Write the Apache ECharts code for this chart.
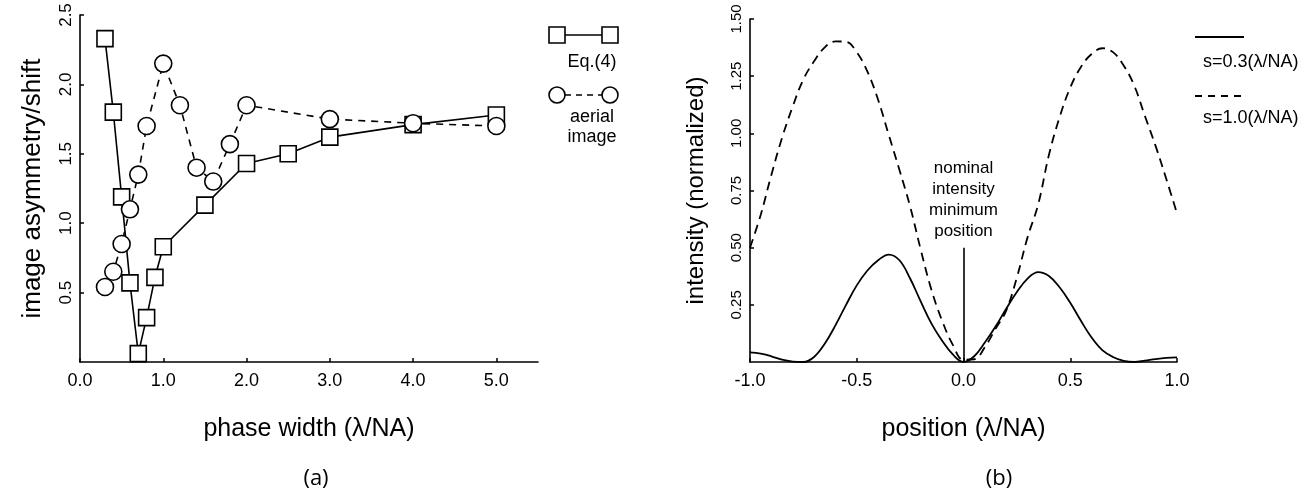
<!DOCTYPE html>
<html>
<head>
<meta charset="utf-8">
<script src="https://cdn.jsdelivr.net/npm/echarts@6/dist/echarts.min.js"></script>
<style>
html,body{margin:0;padding:0;background:#fff;}
#chart{width:1307px;height:497px;}
</style>
</head>
<body>
<div id="chart"></div>
<script>
// ---- Data (a): image asymmetry/shift vs phase width ----
const eq4Width = [0.3, 0.4, 0.5, 0.6, 0.7, 0.8, 0.9, 1.0, 1.5, 2.0, 2.5, 3.0, 4.0, 5.0];
const eq4Asym  = [2.33, 1.80, 1.19, 0.57, 0.06, 0.32, 0.61, 0.83, 1.13, 1.43, 1.50, 1.62, 1.71, 1.78];
const aerialWidth = [0.3, 0.4, 0.5, 0.6, 0.7, 0.8, 1.0, 1.2, 1.4, 1.6, 1.8, 2.0, 3.0, 4.0, 5.0];
const aerialAsym  = [0.54, 0.65, 0.85, 1.10, 1.35, 1.70, 2.15, 1.85, 1.40, 1.30, 1.57, 1.85, 1.75, 1.72, 1.70];
const xTicksA = [0, 1, 2, 3, 4, 5];
const yTicksA = [0.5, 1.0, 1.5, 2.0, 2.5];

// ---- Data (b): intensity vs position ----
const positions = [-1.00,-0.95,-0.90,-0.85,-0.80,-0.75,-0.70,-0.65,-0.60,-0.55,-0.50,-0.45,-0.40,-0.35,-0.30,-0.25,-0.20,-0.15,-0.10,-0.05,
                   0.00,0.05,0.10,0.15,0.20,0.25,0.30,0.35,0.40,0.45,0.50,0.55,0.60,0.65,0.70,0.75,0.80,0.85,0.90,0.95,1.00];
const intensityS03 = [0.042,0.037,0.025,0.010,0.002,0.000,0.022,0.080,0.160,0.250,0.335,0.400,0.445,0.470,0.445,0.365,0.264,0.168,0.093,0.033,
                      0.000,0.025,0.085,0.155,0.233,0.306,0.365,0.393,0.376,0.327,0.259,0.180,0.107,0.052,0.022,0.005,0.000,0.006,0.013,0.018,0.020];
const intensityS10 = [0.50,0.643,0.818,0.98,1.117,1.236,1.315,1.376,1.402,1.400,1.355,1.27,1.147,0.993,0.84,0.68,0.49,0.315,0.18,0.075,
                      0.01,0.012,0.065,0.145,0.225,0.37,0.545,0.69,0.905,1.07,1.20,1.29,1.347,1.372,1.355,1.297,1.208,1.075,0.944,0.80,0.65];
const xTicksB = [-1.0, -0.5, 0.0, 0.5, 1.0];
const yTicksB = [0.25, 0.50, 0.75, 1.00, 1.25, 1.50];
const nominalMin = [0.0, 0.5]; // x position, line top
const nominalText = ['nominal', 'intensity', 'minimum', 'position'];

const legendA = ['Eq.(4)', 'aerial\nimage'];
const legendB = ['s=0.3(λ/NA)', 's=1.0(λ/NA)'];

const FONT = '"Liberation Sans", Arial, Helvetica, sans-serif';
const zip = (a, b) => a.map((v, i) => [v, b[i]]);

const chart = echarts.init(document.getElementById('chart'), null, {renderer: 'canvas'});

const axisLineStyle = {color: '#000', width: 1.6};

const option = {
  animation: false,
  backgroundColor: '#fff',
  textStyle: {fontFamily: FONT, color: '#000'},
  title: [
    {text: '(a)', left: 311, top: 463, textAlign: 'center',
     textStyle: {fontFamily: '"Open Sans", "DejaVu Sans", sans-serif', fontWeight: 'normal', fontSize: 22, color: '#000'}},
    {text: '(b)', left: 994, top: 463, textAlign: 'center',
     textStyle: {fontFamily: '"Open Sans", "DejaVu Sans", sans-serif', fontWeight: 'normal', fontSize: 22, color: '#000'}}
  ],
  grid: [
    {left: 80, top: 15, width: 458, height: 347},
    {left: 750, top: 19, width: 427, height: 343}
  ],
  xAxis: [
    {gridIndex: 0, type: 'value', min: 0, max: 5.5,
     axisLine: {show: true, onZero: false, lineStyle: axisLineStyle},
     axisTick: {show: true, inside: true, length: 4, customValues: xTicksA, lineStyle: {color: '#000', width: 1.5}},
     axisLabel: {customValues: xTicksA, formatter: v => v.toFixed(1), fontSize: 18, color: '#000', margin: 10, fontFamily: FONT},
     splitLine: {show: false},
     name: 'phase width (λ/NA)', nameLocation: 'middle', nameGap: 55,
     nameTextStyle: {fontSize: 25, color: '#000', fontFamily: FONT}},
    {gridIndex: 1, type: 'value', min: -1, max: 1, interval: 0.5,
     axisLine: {show: true, onZero: false, lineStyle: axisLineStyle},
     axisTick: {show: true, inside: true, length: 4, customValues: xTicksB, lineStyle: {color: '#000', width: 1.5}},
     axisLabel: {customValues: xTicksB, formatter: v => v.toFixed(1), fontSize: 18, color: '#000', margin: 10, fontFamily: FONT},
     splitLine: {show: false},
     name: 'position (λ/NA)', nameLocation: 'middle', nameGap: 55,
     nameTextStyle: {fontSize: 25, color: '#000', fontFamily: FONT}}
  ],
  yAxis: [
    {gridIndex: 0, type: 'value', min: 0, max: 2.5,
     axisLine: {show: true, onZero: false, lineStyle: axisLineStyle},
     axisTick: {show: true, inside: true, length: 4, customValues: yTicksA, lineStyle: {color: '#000', width: 1.5}},
     axisLabel: {customValues: yTicksA, formatter: v => v.toFixed(1), fontSize: 17, color: '#000', margin: 5, rotate: 90, fontFamily: FONT},
     splitLine: {show: false},
     name: 'image asymmetry/shift', nameLocation: 'middle', nameGap: 34,
     nameTextStyle: {fontSize: 26, color: '#000', fontFamily: FONT}},
    {gridIndex: 1, type: 'value', min: 0, max: 1.5,
     axisLine: {show: true, onZero: false, lineStyle: axisLineStyle},
     axisTick: {show: true, inside: true, length: 4, customValues: yTicksB, lineStyle: {color: '#000', width: 1.5}},
     axisLabel: {customValues: yTicksB, formatter: v => v.toFixed(2), fontSize: 15, color: '#000', margin: 6, rotate: 90, fontFamily: FONT},
     splitLine: {show: false},
     name: 'intensity (normalized)', nameLocation: 'middle', nameGap: 42,
     nameTextStyle: {fontSize: 24, color: '#000', fontFamily: FONT}}
  ],
  series: [
    {name: legendA[0], type: 'line', xAxisIndex: 0, yAxisIndex: 0,
     data: zip(eq4Width, eq4Asym),
     symbol: 'rect', symbolSize: 16, showAllSymbol: true,
     lineStyle: {color: '#000', width: 1.6, type: 'solid'},
     itemStyle: {color: '#fff', borderColor: '#000', borderWidth: 1.6},
     emphasis: {disabled: true}, z: 2},
    {name: legendA[1], type: 'line', xAxisIndex: 0, yAxisIndex: 0,
     data: zip(aerialWidth, aerialAsym),
     symbol: 'circle', symbolSize: 17, showAllSymbol: true,
     lineStyle: {color: '#000', width: 1.6, type: [7, 6]},
     itemStyle: {color: '#fff', borderColor: '#000', borderWidth: 1.6},
     emphasis: {disabled: true}, z: 3},
    {name: legendB[0], type: 'line', xAxisIndex: 1, yAxisIndex: 1,
     data: zip(positions, intensityS03),
     symbol: 'none', smooth: 0.4,
     lineStyle: {color: '#000', width: 1.8, type: 'solid'},
     emphasis: {disabled: true},
     markLine: {
       silent: true, symbol: 'none', animation: false,
       lineStyle: {color: '#000', width: 1.6, type: 'solid'},
       label: {show: true, position: 'end', distance: 6,
               formatter: nominalText.join('\n'),
               fontSize: 17, lineHeight: 21, color: '#000', fontFamily: FONT, align: 'center'},
       data: [[{coord: [nominalMin[0], 0]}, {coord: [nominalMin[0], nominalMin[1]]}]]
     }},
    {name: legendB[1], type: 'line', xAxisIndex: 1, yAxisIndex: 1,
     data: zip(positions, intensityS10),
     symbol: 'none', smooth: 0.4,
     lineStyle: {color: '#000', width: 1.8, type: [9, 6]},
     emphasis: {disabled: true}}
  ],
  graphic: [
    // legend (a)
    {type: 'line', shape: {x1: 564, y1: 35, x2: 602, y2: 35}, style: {stroke: '#000', lineWidth: 1.6}},
    {type: 'rect', shape: {x: 549, y: 27, width: 16, height: 16}, style: {fill: '#fff', stroke: '#000', lineWidth: 1.6}},
    {type: 'rect', shape: {x: 602, y: 27, width: 16, height: 16}, style: {fill: '#fff', stroke: '#000', lineWidth: 1.6}},
    {type: 'text', x: 592, y: 62, style: {text: legendA[0], font: '18px ' + FONT, fill: '#000', align: 'center', verticalAlign: 'middle'}},
    {type: 'line', shape: {x1: 565, y1: 95, x2: 602, y2: 95}, style: {stroke: '#000', lineWidth: 1.6, lineDash: [6, 5]}},
    {type: 'circle', shape: {cx: 557, cy: 95, r: 8}, style: {fill: '#fff', stroke: '#000', lineWidth: 1.6}},
    {type: 'circle', shape: {cx: 610, cy: 95, r: 8}, style: {fill: '#fff', stroke: '#000', lineWidth: 1.6}},
    {type: 'text', x: 592, y: 127, style: {text: legendA[1], font: '18px ' + FONT, lineHeight: 20, fill: '#000', align: 'center', verticalAlign: 'middle'}},
    // legend (b)
    {type: 'line', shape: {x1: 1195, y1: 37, x2: 1244, y2: 37}, style: {stroke: '#000', lineWidth: 1.8}},
    {type: 'text', x: 1203, y: 62, style: {text: legendB[0], font: '18px ' + FONT, fill: '#000', align: 'left', verticalAlign: 'middle'}},
    {type: 'line', shape: {x1: 1195, y1: 96, x2: 1245, y2: 96}, style: {stroke: '#000', lineWidth: 1.8, lineDash: [7, 6]}},
    {type: 'text', x: 1203, y: 118, style: {text: legendB[1], font: '18px ' + FONT, fill: '#000', align: 'left', verticalAlign: 'middle'}}
  ]
};

chart.setOption(option);
</script>
</body>
</html>
